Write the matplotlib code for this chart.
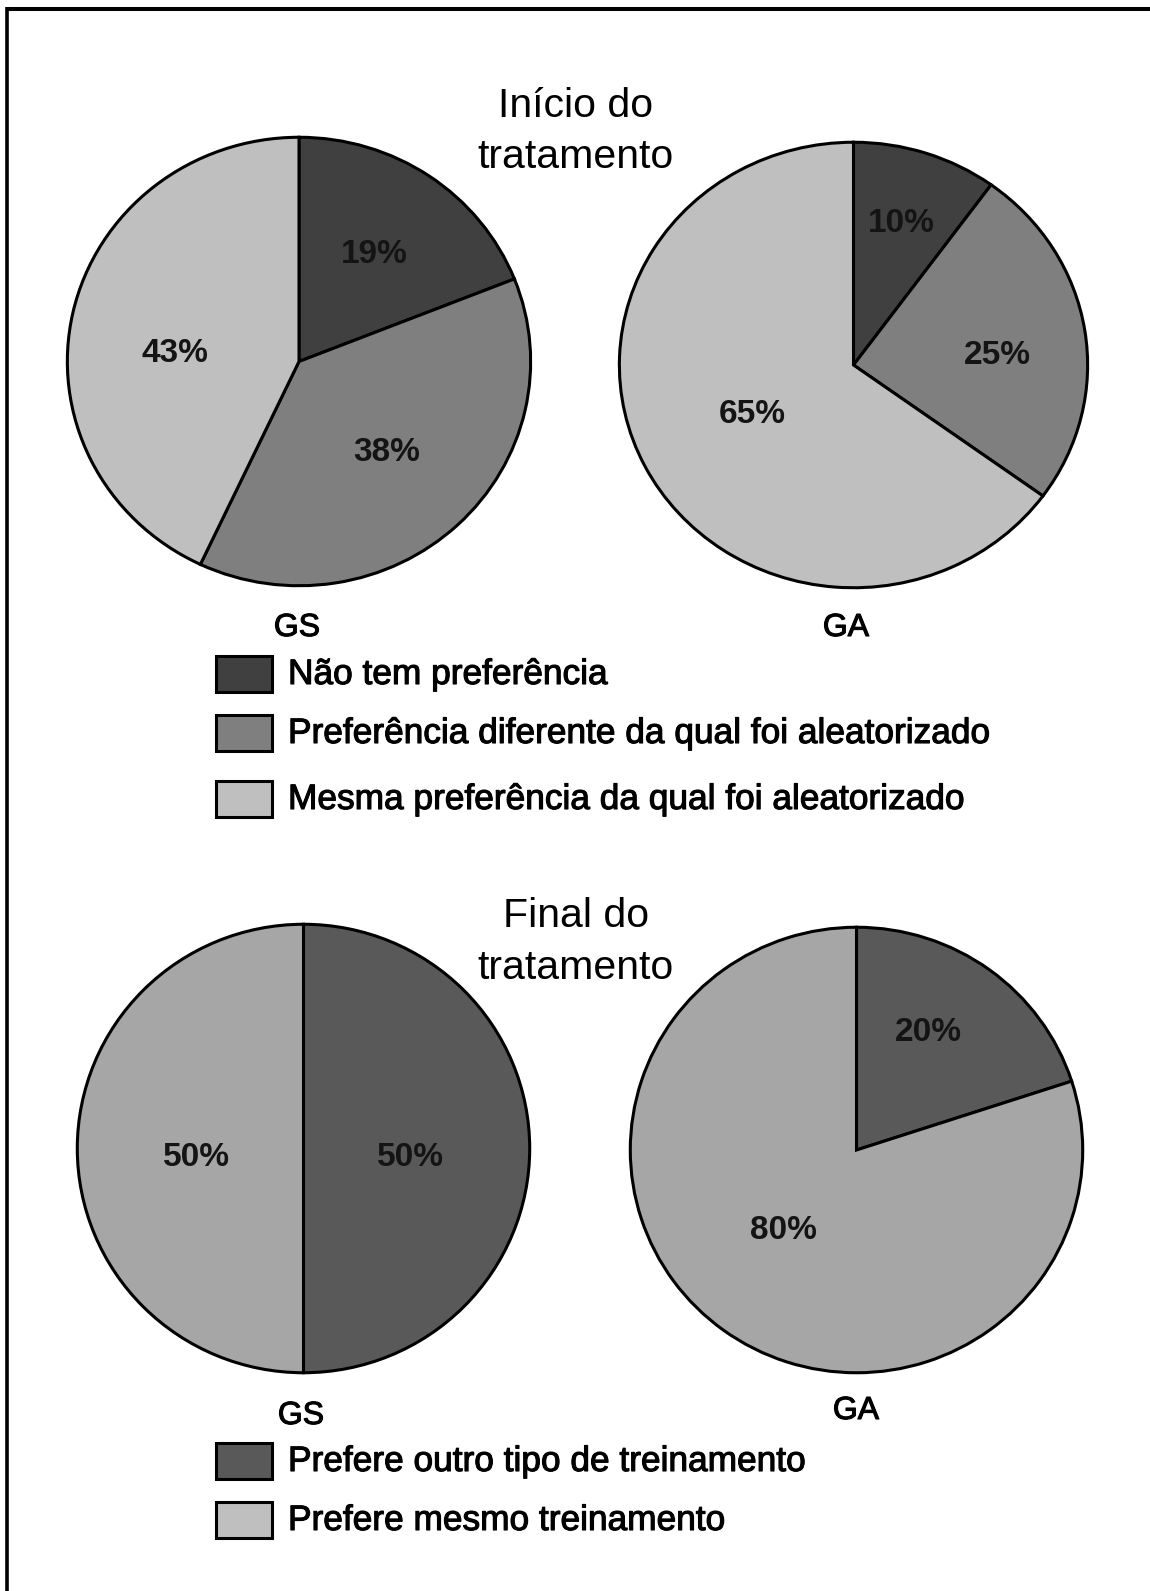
import numpy as np
import matplotlib
matplotlib.use('Agg')
import matplotlib.pyplot as plt
import matplotlib.patheffects as pe
from matplotlib.patches import Rectangle
from matplotlib.lines import Line2D

plt.rcParams['font.family'] = ['Liberation Sans', 'DejaVu Sans']

# percentages per group, start and end of treatment
inicio_gs = [19, 38, 43]
inicio_ga = [10, 25, 65]
final_gs = [50, 50]
final_ga = [20, 80]

grupos = ['GS', 'GA']
inicio_legenda = ['Não tem preferência',
                  'Preferência diferente da qual foi aleatorizado',
                  'Mesma preferência da qual foi aleatorizado']
final_legenda = ['Prefere outro tipo de treinamento',
                 'Prefere mesmo treinamento']

cores_inicio = ['#404040', '#7f7f7f', '#bfbfbf']
cores_final = ['#595959', '#a6a6a6']
cores_final_leg = ['#595959', '#bfbfbf']

W, H = 1150, 1591
fig = plt.figure(figsize=(W / 100, H / 100), dpi=100)
fig.patch.set_facecolor('white')

heavy = [pe.withStroke(linewidth=0.8, foreground='black')]


def fx(x):
    return x / W


def fy(y):
    return 1 - y / H


def pie_at(left, top, right, bottom, values, colors, dists, shifts):
    ax = fig.add_axes([fx(left), fy(bottom), (right - left) / W, (bottom - top) / H])
    wedges, _ = ax.pie(values, colors=colors, startangle=90, counterclock=False,
                       radius=0.99,
                       wedgeprops=dict(edgecolor='black', linewidth=2.2))
    ax.set_aspect('auto')
    ax.set_xlim(-1, 1)
    ax.set_ylim(-1, 1)
    ax.axis('off')
    for w, v, d, s in zip(wedges, values, dists, shifts):
        w.set_clip_on(False)
        ang = np.deg2rad((w.theta1 + w.theta2) / 2 + s)
        ax.text(d * np.cos(ang), d * np.sin(ang), f'{v}%', ha='center', va='center',
                fontsize=24, fontweight='bold', color='#141414')
    return ax


def legenda(x, tops, labels, colors):
    for t, lab, c in zip(tops, labels, colors):
        fig.add_artist(Rectangle((fx(x), fy(t + 36)), 56 / W, 36 / H,
                                 transform=fig.transFigure, facecolor=c,
                                 edgecolor='black', linewidth=2.2))
        fig.text(fx(x + 72), fy(t + 28), lab, fontsize=25.4, ha='left',
                 va='baseline', color='black', path_effects=heavy)


# frame (top and left only)
fig.add_artist(Line2D([fx(6.5), fx(W)], [fy(9), fy(9)], color='black', lw=2.9,
                      transform=fig.transFigure, solid_capstyle='butt'))
fig.add_artist(Line2D([fx(6.5), fx(6.5)], [fy(7), fy(H)], color='black', lw=2.6,
                      transform=fig.transFigure, solid_capstyle='butt'))

# start of treatment
fig.text(fx(576), fy(117), 'Início do', fontsize=29.5, ha='center', va='baseline')
fig.text(fx(576), fy(168), 'tratamento', fontsize=29.5, ha='center', va='baseline')
pie_at(65, 135, 533, 588, inicio_gs, cores_inicio, [0.57, 0.55, 0.53], [0, 0, 9])
pie_at(617, 140, 1090, 590, inicio_ga, cores_inicio, [0.66, 0.61, 0.48], [0, -5, 0])
fig.text(fx(297), fy(636), grupos[0], fontsize=23, ha='center', va='baseline',
         path_effects=heavy)
fig.text(fx(846), fy(636), grupos[1], fontsize=23, ha='center', va='baseline',
         path_effects=heavy)
legenda(216, [656, 715, 781], inicio_legenda, cores_inicio)

# end of treatment
fig.text(fx(576), fy(927), 'Final do', fontsize=29.5, ha='center', va='baseline')
fig.text(fx(576), fy(979), 'tratamento', fontsize=29.5, ha='center', va='baseline')
pie_at(75, 922, 532, 1375, final_gs, cores_final, [0.47, 0.47], [-5, 5])
pie_at(628, 925, 1085, 1375, final_ga, cores_final, [0.61, 0.48], [5, -6])
fig.text(fx(301), fy(1424), grupos[0], fontsize=23, ha='center', va='baseline',
         path_effects=heavy)
fig.text(fx(856), fy(1419), grupos[1], fontsize=23, ha='center', va='baseline',
         path_effects=heavy)
legenda(216, [1443, 1502], final_legenda, cores_final_leg)

fig.savefig('out.png', dpi=100, facecolor='white')
